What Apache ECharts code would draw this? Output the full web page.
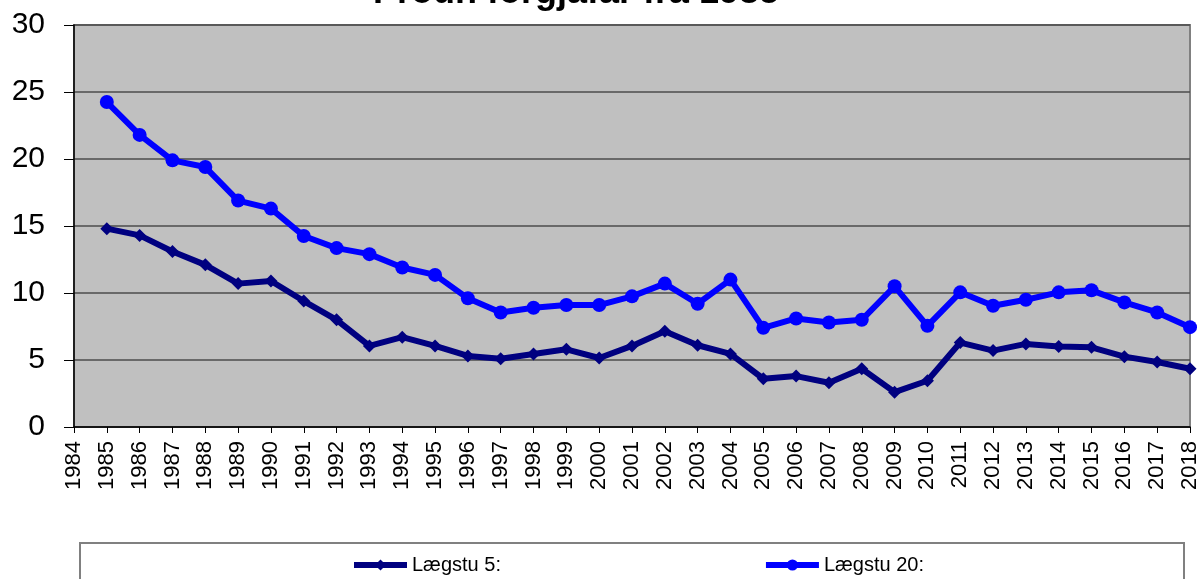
<!DOCTYPE html>
<html>
<head>
<meta charset="utf-8">
<script src="https://cdn.jsdelivr.net/npm/echarts@6/dist/echarts.min.js"></script>
<style>
  html, body { margin: 0; padding: 0; background: #fff; }
  #main { width: 1201px; height: 579px; }
</style>
</head>
<body>
<div id="main"></div>
<script>
'use strict';

var years = ['1984', '1985', '1986', '1987', '1988', '1989', '1990', '1991', '1992', '1993',
    '1994', '1995', '1996', '1997', '1998', '1999', '2000', '2001', '2002', '2003',
    '2004', '2005', '2006', '2007', '2008', '2009', '2010', '2011', '2012', '2013',
    '2014', '2015', '2016', '2017', '2018'];

// Lægstu 5 (dark blue, diamonds)
var laegstu5 = [null, 14.8, 14.3, 13.1, 12.1, 10.7, 10.9, 9.4, 8.0, 6.05,
    6.7, 6.05, 5.3, 5.1, 5.45, 5.8, 5.15, 6.05, 7.15, 6.1,
    5.45, 3.6, 3.8, 3.3, 4.35, 2.6, 3.45, 6.3, 5.7, 6.2,
    6.0, 5.95, 5.25, 4.85, 4.35];

// Lægstu 20 (blue, circles)
var laegstu20 = [null, 24.25, 21.8, 19.9, 19.4, 16.9, 16.3, 14.25, 13.35, 12.9,
    11.9, 11.35, 9.6, 8.55, 8.9, 9.1, 9.1, 9.75, 10.7, 9.2,
    11.0, 7.4, 8.1, 7.8, 8.0, 10.5, 7.55, 10.05, 9.05, 9.5,
    10.05, 10.2, 9.3, 8.55, 7.45];

var seriesNames = ['Lægstu 5:', 'Lægstu 20:'];
var titleText = 'Þróun forgjafar frá 1985';

var myChart = echarts.init(document.getElementById('main'));
var font = 'Liberation Sans, Arial, sans-serif';

var option = {
    animation: false,
    backgroundColor: '#ffffff',
    title: {
        text: titleText,
        left: 571,
        top: -30,
        textAlign: 'center',
        textStyle: {
            fontFamily: font,
            fontSize: 36,
            fontWeight: 'bold',
            color: '#000'
        }
    },
    // legend frame
    graphic: [{
        type: 'polyline',
        z: 1,
        shape: { points: [[80, 590], [80, 543], [1184, 543], [1184, 590]] },
        style: { fill: '#ffffff', stroke: '#808080', lineWidth: 2 }
    }],
    legend: {
        data: seriesNames,
        left: 351,
        top: 555,
        padding: 0,
        itemGap: 262,
        itemWidth: 53,
        itemHeight: 14,
        lineStyle: { width: 6 },
        textStyle: {
            fontFamily: font,
            fontSize: 20,
            color: '#000'
        }
    },
    grid: {
        left: 74,
        right: 11,
        top: 25,
        bottom: 152,
        show: true,
        backgroundColor: '#c0c0c0',
        borderColor: '#808080',
        borderWidth: 2
    },
    xAxis: {
        type: 'category',
        data: years,
        boundaryGap: false,
        axisLine: { lineStyle: { color: '#000', width: 1.5 } },
        axisTick: { show: true, length: 6, lineStyle: { color: '#000' } },
        axisLabel: {
            rotate: 90,
            interval: 0,
            margin: 14,
            fontFamily: font,
            fontSize: 22,
            color: '#000'
        },
        splitLine: { show: false }
    },
    yAxis: {
        type: 'value',
        min: 0,
        max: 30,
        interval: 5,
        axisLine: { show: true, lineStyle: { color: '#000', width: 1.5 } },
        axisTick: { show: true, length: 10, lineStyle: { color: '#000' } },
        axisLabel: {
            margin: 29,
            fontFamily: font,
            fontSize: 30,
            color: '#000'
        },
        splitLine: { lineStyle: { color: '#4d4d4d', width: 1.5 } }
    },
    series: [{
        name: seriesNames[0],
        type: 'line',
        data: laegstu5,
        symbol: 'diamond',
        symbolSize: 13,
        showAllSymbol: true,
        itemStyle: { color: '#000080' },
        lineStyle: { color: '#000080', width: 6 }
    }, {
        name: seriesNames[1],
        type: 'line',
        data: laegstu20,
        symbol: 'circle',
        symbolSize: 14,
        showAllSymbol: true,
        itemStyle: { color: '#0000ff' },
        lineStyle: { color: '#0000ff', width: 6 }
    }]
};
myChart.setOption(option);
</script>
</body>
</html>
